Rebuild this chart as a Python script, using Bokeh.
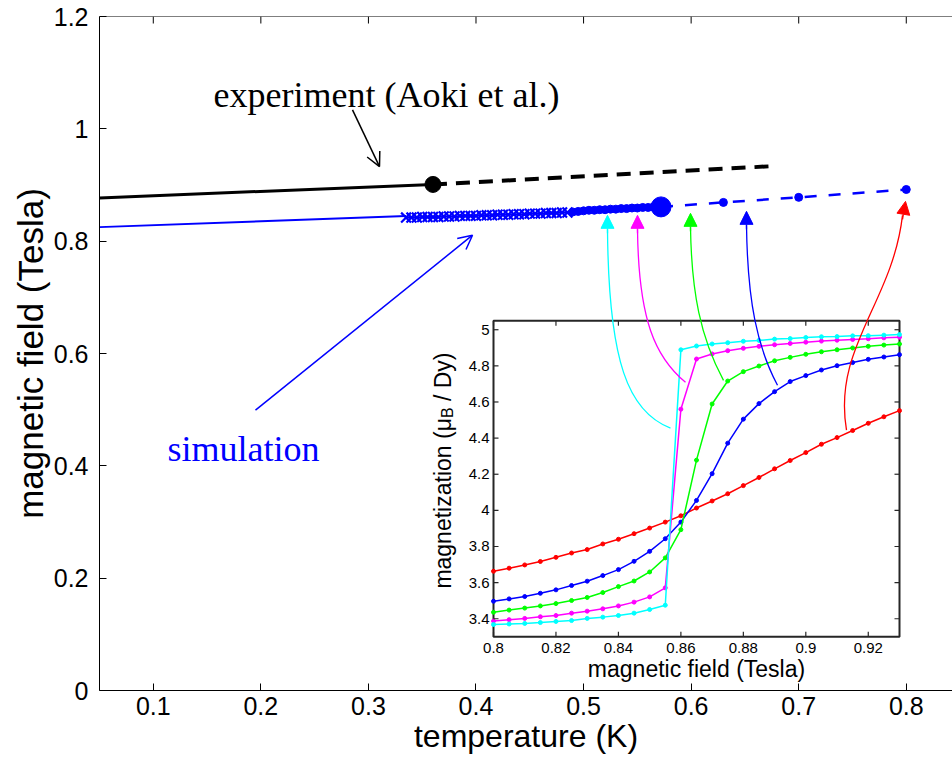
import math
from bokeh.plotting import figure
from bokeh.models import Range1d, FixedTicker, Arrow, OpenHead, NormalHead, Span
from bokeh.core.properties import value
from bokeh.embed import file_html
from bokeh.resources import INLINE

# ---------------- data (main plot) ----------------
exp_T = [0.05, 0.36]
exp_B = [0.877, 0.901]
exp_ext_T = [0.36, 0.68]
exp_ext_B = [0.901, 0.934]
exp_pt_T = [0.36]
exp_pt_B = [0.901]

sim_line_T = [0.05, 0.335]
sim_line_B = [0.825, 0.845]
sim_band_T = [0.335, 0.340, 0.345, 0.350, 0.355, 0.360, 0.365, 0.370, 0.375, 0.380,
              0.385, 0.390, 0.395, 0.400, 0.405, 0.410, 0.415, 0.420, 0.425, 0.430,
              0.435, 0.440, 0.445, 0.450, 0.455, 0.460, 0.465, 0.470, 0.475, 0.480, 0.485]
sim_band_B = [0.842, 0.842, 0.842, 0.843, 0.843, 0.843, 0.843, 0.844, 0.844, 0.844,
              0.845, 0.845, 0.845, 0.845, 0.846, 0.846, 0.846, 0.847, 0.847, 0.847,
              0.848, 0.848, 0.848, 0.849, 0.849, 0.849, 0.850, 0.850, 0.850, 0.851, 0.851]
sim_dot_T = [0.490, 0.495, 0.500, 0.505, 0.510, 0.515, 0.520, 0.525,
             0.530, 0.535, 0.540, 0.545, 0.550, 0.555, 0.560, 0.565]
sim_dot_B = [0.852, 0.853, 0.854, 0.855, 0.855, 0.856, 0.856, 0.857,
             0.857, 0.858, 0.858, 0.859, 0.859, 0.860, 0.860, 0.861]
sim_crit_T = [0.572]
sim_crit_B = [0.861]
sim_ext_T = [0.572, 0.63, 0.70, 0.80]
sim_ext_B = [0.861, 0.869, 0.878, 0.892]

main_xticks = [0.1, 0.2, 0.3, 0.4, 0.5, 0.6, 0.7, 0.8]
main_yticks = [0, 0.2, 0.4, 0.6, 0.8, 1, 1.2]
main_ytick_labels = ["0", "0.2", "0.4", "0.6", "0.8", "1", "1.2"]

# ---------------- data (inset) ----------------
field = [0.800, 0.805, 0.810, 0.815, 0.820, 0.825, 0.830, 0.835, 0.840, 0.845,
         0.850, 0.855, 0.860, 0.865, 0.870, 0.875, 0.880, 0.885, 0.890, 0.895,
         0.900, 0.905, 0.910, 0.915, 0.920, 0.925, 0.930]
m_red = [3.663, 3.680, 3.698, 3.717, 3.740, 3.764, 3.783, 3.814, 3.840, 3.871,
         3.902, 3.935, 3.970, 4.013, 4.052, 4.092, 4.137, 4.182, 4.230, 4.276,
         4.320, 4.366, 4.403, 4.442, 4.482, 4.518, 4.552]
m_blue = [3.497, 3.510, 3.523, 3.541, 3.560, 3.584, 3.608, 3.639, 3.672, 3.718,
          3.773, 3.843, 3.935, 4.055, 4.203, 4.372, 4.505, 4.591, 4.657, 4.713,
          4.746, 4.777, 4.801, 4.818, 4.836, 4.849, 4.862]
m_green = [3.436, 3.448, 3.459, 3.471, 3.484, 3.501, 3.518, 3.545, 3.578, 3.609,
           3.659, 3.737, 3.893, 4.278, 4.589, 4.716, 4.768, 4.799, 4.828, 4.847,
           4.864, 4.878, 4.889, 4.899, 4.908, 4.915, 4.921]
m_magenta = [3.387, 3.395, 3.402, 3.411, 3.418, 3.431, 3.442, 3.455, 3.471, 3.492,
             3.521, 3.571, 4.560, 4.838, 4.866, 4.884, 4.897, 4.908, 4.917, 4.924,
             4.931, 4.937, 4.942, 4.946, 4.950, 4.955, 4.959]
m_cyan = [3.368, 3.371, 3.374, 3.379, 3.385, 3.390, 3.402, 3.409, 3.418, 3.431,
          3.451, 3.475, 4.889, 4.910, 4.921, 4.928, 4.936, 4.941, 4.948, 4.951,
          4.957, 4.961, 4.962, 4.966, 4.967, 4.970, 4.973]
inset_series = [("#ff0000", m_red), ("#0000ff", m_blue), ("#00ff00", m_green),
                ("#ff00ff", m_magenta), ("#00ffff", m_cyan)]
inset_xticks = [0.80, 0.82, 0.84, 0.86, 0.88, 0.90, 0.92]
inset_xtick_labels = ["0.8", "0.82", "0.84", "0.86", "0.88", "0.9", "0.92"]
inset_yticks = [3.4, 3.6, 3.8, 4.0, 4.2, 4.4, 4.6, 4.8, 5.0]
inset_ytick_labels = ["3.4", "3.6", "3.8", "4", "4.2", "4.4", "4.6", "4.8", "5"]

# ---------------- geometry ----------------
W, H = 952, 769
FL, FT, FB = 99, 16, 690          # frame edges in page pixels (page has no margin)
X0 = 0.05
X1 = 0.05 + (W - FL) / 1075.7
Y0, Y1 = 0.0, 1.2

# reference-picture pixel -> data helpers (used only to place annotations)
def T(px):
    return 0.05 + (px - 99) / 1075.7

def Bf(py):
    return (690 - py) / 565.0

# inset box (in main data coordinates) and inset data ranges
TL, TR, BT, BB = T(493), T(899), Bf(318), Bf(636)
IX0, IX1, IY0, IY1 = 0.80, 0.93, 3.30, 5.05

def ix_of(t):
    return IX0 + (t - TL) / (TR - TL) * (IX1 - IX0)

def iy_of(b):
    return IY0 + (b - BB) / (BT - BB) * (IY1 - IY0)

SANS = value("Liberation Sans")
SERIF = value("Liberation Serif")

p = figure(width=W, height=H, x_range=Range1d(X0, X1), y_range=Range1d(Y0, Y1),
           output_backend="svg", toolbar_location=None,
           min_border_left=FL, min_border_right=0,
           min_border_top=FT, min_border_bottom=H - FB)
p.extra_x_ranges = {"ix": Range1d(ix_of(X0), ix_of(X1))}
p.extra_y_ranges = {"iy": Range1d(iy_of(Y0), iy_of(Y1))}

p.outline_line_color = None
p.xgrid.grid_line_color = None
p.ygrid.grid_line_color = None
p.background_fill_color = "white"
p.border_fill_color = "white"

p.xaxis.ticker = FixedTicker(ticks=main_xticks)
p.yaxis.ticker = FixedTicker(ticks=main_yticks)
p.yaxis.major_label_overrides = {t: lab for t, lab in zip(main_yticks, main_ytick_labels)}
p.xaxis.axis_label = "temperature (K)"
p.yaxis.axis_label = "magnetic field (Tesla)"
for ax in (p.xaxis[0], p.yaxis[0]):
    ax.major_tick_in = 7
    ax.major_tick_out = 0
    ax.minor_tick_line_color = None
    ax.axis_line_color = "black"
    ax.major_tick_line_color = "black"
    ax.major_label_text_font = "Liberation Sans"
    ax.major_label_text_font_size = "25px"
    ax.major_label_text_color = "black"
    ax.axis_label_text_font = "Liberation Sans"
    ax.axis_label_text_font_style = "normal"
    ax.axis_label_text_color = "black"
p.xaxis.axis_label_text_font_size = "32px"
p.yaxis.axis_label_text_font_size = "35px"
p.xaxis.major_label_standoff = 6
p.xaxis.axis_label_standoff = 0
p.yaxis.major_label_standoff = 11
p.yaxis.axis_label_standoff = 1

# top border with inward ticks
p.add_layout(Span(location=Y1, dimension="width", line_color="black", line_width=1))
p.ray(x=main_xticks, y=[Y1] * len(main_xticks), length=7, angle=-math.pi / 2,
      length_units="screen", line_color="black", line_width=1)

# ---------------- main curves ----------------
p.line(exp_T, exp_B, line_color="black", line_width=3)
p.line(exp_ext_T, exp_ext_B, line_color="black", line_width=4, line_dash="14 9")
p.scatter(exp_pt_T, exp_pt_B, size=16, marker="circle", fill_color="black", line_color="black")

p.line(sim_line_T, sim_line_B, line_color="#0000ff", line_width=2)
p.scatter(sim_band_T, sim_band_B, marker="x", size=14, line_color="#0000ff", line_width=2.2)
p.line(sim_band_T + sim_dot_T, sim_band_B + sim_dot_B, line_color="#0000ff", line_width=2)
p.scatter(sim_dot_T, sim_dot_B, marker="circle", size=8, fill_color="#0000ff", line_color="#0000ff")
p.line(sim_ext_T, sim_ext_B, line_color="#0000ff", line_width=2.5, line_dash="12 12")
p.scatter(sim_ext_T[1:], sim_ext_B[1:], marker="circle", size=8, fill_color="#0000ff", line_color="#0000ff")
p.scatter(sim_crit_T, sim_crit_B, marker="circle", size=20, fill_color="#0000ff", line_color="#0000ff")

# text annotations
p.text(x=[T(386)], y=[Bf(91)], text=["experiment (Aoki et al.)"], text_font=SERIF,
       text_font_size="36px", text_align="center", text_baseline="alphabetic", text_color="black")
p.text(x=[T(243)], y=[Bf(447)], text=["simulation"], text_font=SERIF,
       text_font_size="36px", text_align="center", text_baseline="alphabetic", text_color="#0000ff")
p.add_layout(Arrow(end=OpenHead(size=14, line_width=1.5, line_color="black"),
                   x_start=T(352), y_start=Bf(106), x_end=T(379), y_end=Bf(163),
                   line_color="black", line_width=1.5))
p.add_layout(Arrow(end=OpenHead(size=14, line_width=1.5, line_color="#0000ff"),
                   x_start=T(255), y_start=Bf(408), x_end=T(472), y_end=Bf(232),
                   line_color="#0000ff", line_width=1.5))

# ---------------- inset ----------------
IR_ = dict(x_range_name="ix", y_range_name="iy")
p.quad(left=[IX0], right=[IX1], bottom=[IY0], top=[IY1], fill_color="white",
       line_color="#262626", line_width=2, **IR_)
for c, m in inset_series:
    p.line(field, m, line_color=c, line_width=1.5, **IR_)
    p.scatter(field, m, marker="circle", size=4, fill_color=c, line_color=c, **IR_)

tk = dict(length=5, length_units="screen", line_color="#262626", line_width=1.2, **IR_)
p.ray(x=inset_xticks, y=[IY0] * len(inset_xticks), angle=math.pi / 2, **tk)
p.ray(x=inset_xticks, y=[IY1] * len(inset_xticks), angle=-math.pi / 2, **tk)
p.ray(x=[IX0] * len(inset_yticks), y=inset_yticks, angle=0, **tk)
p.ray(x=[IX1] * len(inset_yticks), y=inset_yticks, angle=math.pi, **tk)

p.text(x=inset_xticks, y=[IY0] * len(inset_xticks), text=inset_xtick_labels, text_font=SANS,
       text_font_size="15px", text_align="center", text_baseline="top", y_offset=6,
       text_color="black", **IR_)
p.text(x=[IX0] * len(inset_yticks), y=inset_yticks, text=inset_ytick_labels, text_font=SANS,
       text_font_size="15px", text_align="right", text_baseline="middle", x_offset=-4,
       text_color="black", **IR_)
p.text(x=[(IX0 + IX1) / 2], y=[IY0], text=["magnetic field (Tesla)"], text_font=SANS,
       text_font_size="23px", text_align="center", text_baseline="middle", y_offset=32,
       text_color="black", **IR_)
lx, ly = ix_of(T(442)), iy_of(Bf(416))
p.text(x=[lx], y=[ly], text=["magnetization (\u03bc"], angle=math.pi / 2, text_font=SANS,
       text_font_size="23px", text_align="right", text_baseline="middle", text_color="black", **IR_)
p.text(x=[lx], y=[ly], text=["B"], angle=math.pi / 2, text_font=SANS, x_offset=5,
       text_font_size="16px", text_align="left", text_baseline="middle", text_color="black", **IR_)
p.text(x=[lx], y=[ly], text=["/ Dy)"], angle=math.pi / 2, text_font=SANS, y_offset=-17,
       text_font_size="23px", text_align="left", text_baseline="middle", text_color="black", **IR_)

# ---------------- curved arrows from inset curves to the transition line ----------------
arrows = [
    ("#00ffff", (670, 426), (628, 410), (608, 360), (607, 226), (607, 212)),
    ("#ff00ff", (685, 380), (655, 355), (638, 318), (637, 226), (637, 212)),
    ("#00ff00", (723, 378), (700, 335), (691, 290), (690, 224), (690, 210)),
    ("#0000ff", (777, 383), (757, 345), (747, 300), (746, 222), (746, 208)),
    ("#ff0000", (846, 428), (832, 345), (892, 300), (902, 212), (905, 198)),
]
for c, s, c1, c2, e, tip in arrows:
    p.bezier(x0=[T(s[0])], y0=[Bf(s[1])], x1=[T(e[0])], y1=[Bf(e[1])],
             cx0=[T(c1[0])], cy0=[Bf(c1[1])], cx1=[T(c2[0])], cy1=[Bf(c2[1])],
             line_color=c, line_width=1.3)
    p.add_layout(Arrow(end=NormalHead(size=13, fill_color=c, line_color=c, line_width=1),
                       x_start=T(e[0]), y_start=Bf(e[1] + 4), x_end=T(tip[0]), y_end=Bf(tip[1]),
                       line_color=c, line_width=1.3))

open("out.html", "w").write(file_html(p, INLINE))
